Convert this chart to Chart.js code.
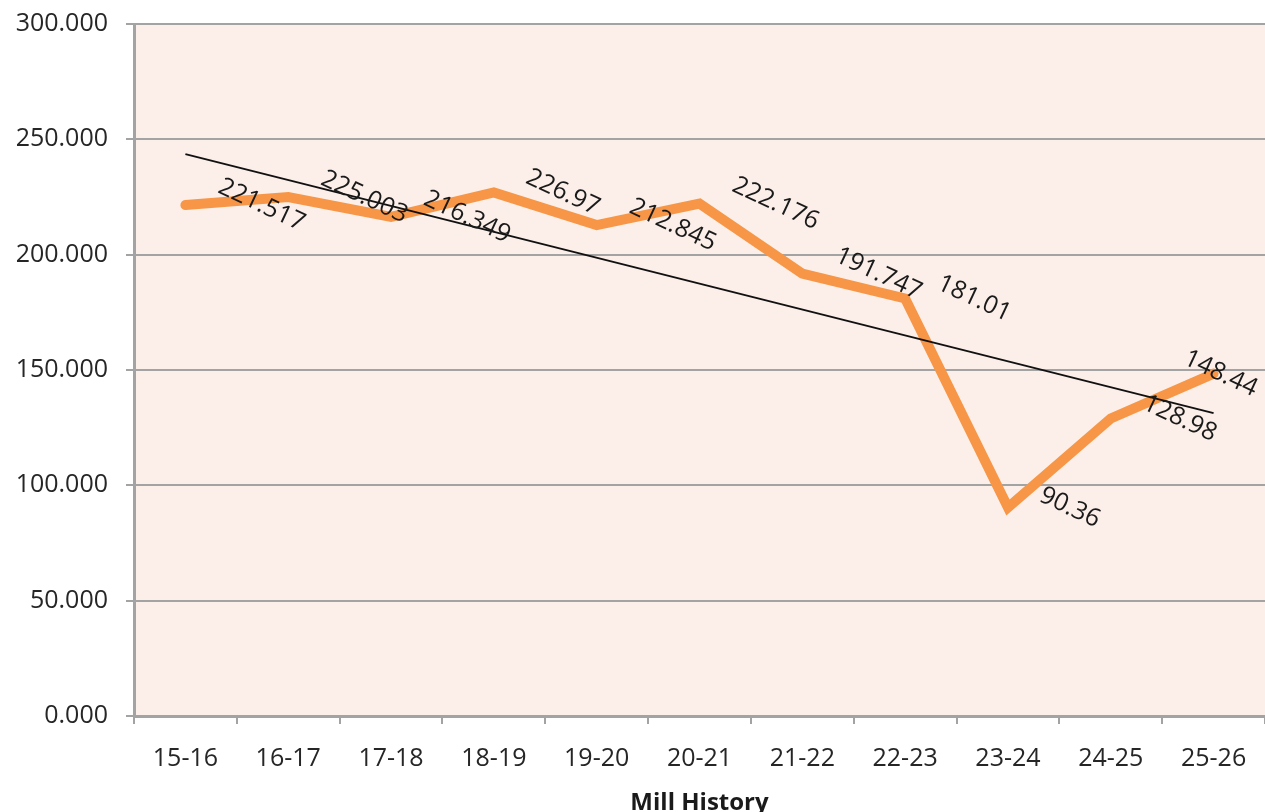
<!DOCTYPE html>
<html>
<head>
<meta charset="utf-8">
<script src="https://cdn.jsdelivr.net/npm/chart.js@4/dist/chart.umd.min.js"></script>
<style>
  body { margin: 0; background: #ffffff; }
  #chartDiv { width: 1265px; height: 812px; position: relative; }
</style>
</head>
<body>
<div id="chartDiv"><canvas id="myChart"></canvas></div>
<script>
// seasons on the x axis
let seasons = ["15-16", "16-17", "17-18", "18-19", "19-20", "20-21", "21-22", "22-23", "23-24", "24-25", "25-26"];
// crushing figures per season (as labelled in the picture)
let millValues = [221.517, 225.003, 216.349, 226.97, 212.845, 222.176, 191.747, 181.01, 90.36, 128.98, 148.44];
// linear trendline at both ends
let trendValues = [243.6, null, null, null, null, null, null, null, null, null, 131.3];
let yTicks = [0, 50, 100, 150, 200, 250, 300];

let myChart = document.getElementById("myChart");
let gridGray = "#a3a3a3";
let labelFont = '25px "Open Sans"';

// pink plot background
const plotBackground = {
  id: "plotBackground",
  beforeDraw(chart) {
    let area = chart.chartArea;
    let ctx = chart.ctx;
    ctx.save();
    ctx.fillStyle = "#fcefe9";
    ctx.fillRect(area.left, area.top, area.right - area.left, area.bottom - area.top);
    ctx.restore();
  },
};

// rotated value labels to the right of each point
const valueLabels = {
  id: "valueLabels",
  afterDatasetsDraw(chart) {
    let ctx = chart.ctx;
    let meta = chart.getDatasetMeta(0);
    let angle = (25 * Math.PI) / 180;
    ctx.save();
    ctx.font = labelFont;
    ctx.fillStyle = "#1a1a1a";
    ctx.textAlign = "center";
    ctx.textBaseline = "middle";
    meta.data.forEach((pt, i) => {
      let text = String(millValues[i]);
      let w = ctx.measureText(text).width;
      let extent = w * Math.cos(angle) + 24 * Math.sin(angle);
      let cx = pt.x + 30 + w / 2;
      if (cx + extent / 2 > chart.width - 4) {
        cx = chart.width - 4 - extent / 2;
      }
      ctx.save();
      ctx.translate(cx, pt.y);
      ctx.rotate(angle);
      ctx.fillText(text, 0, 0);
      ctx.restore();
    });
    ctx.restore();
  },
};

const data = {
  labels: seasons,
  datasets: [
    {
      label: "Mill History",
      data: millValues,
      borderColor: "#f79646",
      backgroundColor: "#f79646",
      borderWidth: 10,
      pointRadius: 0,
      tension: 0,
      borderJoinStyle: "miter",
      borderCapStyle: "round",
      order: 2,
    },
    {
      label: "Trend",
      data: trendValues,
      borderColor: "#111111",
      borderWidth: 2,
      pointRadius: 0,
      spanGaps: true,
      order: 1,
    },
  ],
};

const config = {
  type: "line",
  data: data,
  options: {
    responsive: true,
    maintainAspectRatio: false,
    animation: false,
    layout: { autoPadding: false, padding: { top: 24, right: 0, left: 0, bottom: 0 } },
    plugins: {
      legend: { display: false },
      tooltip: { enabled: false },
    },
    scales: {
      x: {
        offset: true,
        grid: {
          offset: true,
          drawOnChartArea: false,
          drawTicks: true,
          tickLength: 8,
          color: gridGray,
          lineWidth: 2,
        },
        border: { color: gridGray, width: 3 },
        ticks: {
          color: "#262626",
          font: { family: "Open Sans", size: 25 },
          padding: 20,
          maxRotation: 0,
          autoSkip: false,
        },
        title: {
          display: true,
          text: "Mill History",
          color: "#1a1a1a",
          font: { family: "Open Sans", size: 24, weight: "bold" },
          padding: { top: 0, bottom: -6 },
        },
        afterFit(scale) {
          scale.height = 96;
          scale.paddingLeft = 0;
          scale.paddingRight = 0;
        },
      },
      y: {
        min: 0,
        max: 300,
        afterBuildTicks(scale) {
          scale.ticks = yTicks.map((v) => ({ value: v }));
        },
        grid: {
          color: gridGray,
          lineWidth: 2,
          tickLength: 8,
        },
        border: { color: gridGray, width: 3 },
        ticks: {
          color: "#262626",
          font: { family: "Open Sans", size: 25 },
          padding: 18,
          callback: (v) => Number(v).toFixed(3),
        },
        afterFit(scale) {
          scale.width = 134;
          scale.paddingTop = 0;
          scale.paddingBottom = 0;
        },
      },
    },
  },
  plugins: [plotBackground, valueLabels],
};

const newChart = new Chart(myChart, config);
</script>
</body>
</html>
